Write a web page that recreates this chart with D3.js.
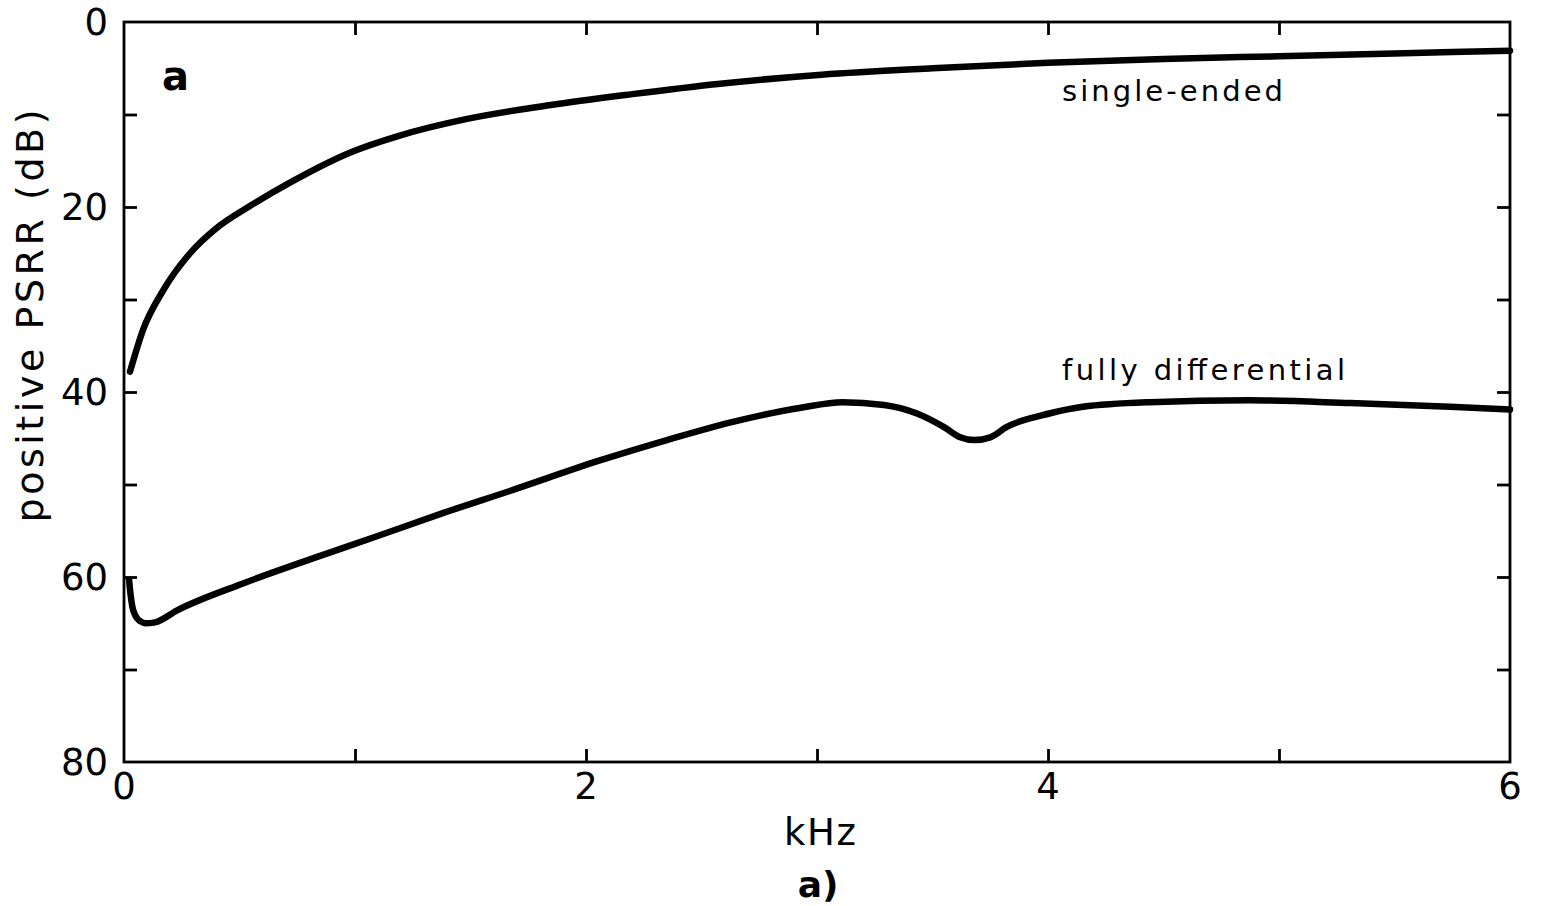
<!DOCTYPE html>
<html>
<head>
<meta charset="utf-8">
<script src="https://cdn.jsdelivr.net/npm/d3@7/dist/d3.min.js"></script>
<style>
  html, body { margin: 0; padding: 0; background: #fff; }
  svg { display: block; }
  text { font-family: "DejaVu Sans", "Liberation Sans", sans-serif; fill: #000; }
</style>
</head>
<body>
<svg id="chart" width="1541" height="906"></svg>
<script>
// Frequency in kHz, positive PSRR in dB (axis runs downward, 0 at top)
const singleEndedKHz = [0.026, 0.082, 0.17, 0.286, 0.40, 0.545, 0.73, 0.98, 1.19, 1.48, 1.84, 2.2, 2.57, 3.02, 3.5, 4.0, 4.5, 5.0, 5.5, 6.0];
const singleEndedDB  = [37.8, 33.3, 29.0, 25.0, 22.3, 19.9, 17.2, 14.1, 12.3, 10.5, 9.0, 7.8, 6.7, 5.7, 5.0, 4.4, 4.0, 3.7, 3.4, 3.1];

const fullyDiffKHz = [0.022, 0.028, 0.036, 0.046, 0.058, 0.072, 0.091, 0.134, 0.23, 0.515, 0.805, 1.095, 1.38, 1.67, 2.06, 2.35, 2.64, 2.93, 3.11, 3.29, 3.43, 3.55, 3.62, 3.68, 3.75, 3.82, 4.01, 4.15, 4.44, 4.87, 5.31, 5.74, 6.0];
const fullyDiffDB  = [60.3, 61.8, 63.2, 64.0, 64.5, 64.8, 65.0, 64.9, 63.6, 60.7, 58.1, 55.6, 53.1, 50.7, 47.4, 45.2, 43.2, 41.7, 41.1, 41.4, 42.3, 43.8, 44.9, 45.2, 44.9, 43.8, 42.3, 41.6, 41.1, 40.9, 41.2, 41.6, 41.9];

const xTickValues = [0, 1, 2, 3, 4, 5, 6];
const xTickLabels = ["0", "", "2", "", "4", "", "6"];
const yTickValues = [0, 10, 20, 30, 40, 50, 60, 70, 80];
const yTickLabels = ["0", "", "20", "", "40", "", "60", "", "80"];

const seriesLabels = ["single-ended", "fully differential"];
const panelTag = "a";
const xTitle = "kHz";
const yTitle = "positive PSRR (dB)";
const caption = "a)";

const svg = d3.select("#chart");
const plotLeft = 124, plotRight = 1510, plotTop = 22, plotBottom = 762;

const x = d3.scaleLinear().domain([0, 6]).range([plotLeft, plotRight]);
const y = d3.scaleLinear().domain([0, 80]).range([plotTop, plotBottom]);

const tickLen = 13;
const axisStroke = 2.8;

// Frame
svg.append("rect")
  .attr("x", plotLeft).attr("y", plotTop)
  .attr("width", plotRight - plotLeft).attr("height", plotBottom - plotTop)
  .attr("fill", "none").attr("stroke", "#000").attr("stroke-width", axisStroke);

// Inward ticks on all four sides
const innerX = xTickValues.filter(v => v > 0 && v < 6);
const innerY = yTickValues.filter(v => v > 0 && v < 80);

const bottomAxis = d3.axisBottom(x).tickValues(innerX).tickSizeInner(-tickLen).tickSizeOuter(0).tickFormat("");
const topAxis = d3.axisTop(x).tickValues(innerX).tickSizeInner(-tickLen).tickSizeOuter(0).tickFormat("");
const leftAxis = d3.axisLeft(y).tickValues(innerY).tickSizeInner(-tickLen).tickSizeOuter(0).tickFormat("");
const rightAxis = d3.axisRight(y).tickValues(innerY).tickSizeInner(-tickLen).tickSizeOuter(0).tickFormat("");

function styleAxis(g) {
  g.select(".domain").remove();
  g.selectAll(".tick line").attr("stroke", "#000").attr("stroke-width", axisStroke);
}
svg.append("g").attr("transform", `translate(0,${plotBottom})`).call(bottomAxis).call(styleAxis);
svg.append("g").attr("transform", `translate(0,${plotTop})`).call(topAxis).call(styleAxis);
svg.append("g").attr("transform", `translate(${plotLeft},0)`).call(leftAxis).call(styleAxis);
svg.append("g").attr("transform", `translate(${plotRight},0)`).call(rightAxis).call(styleAxis);

// Tick labels
svg.append("g").selectAll("text")
  .data(xTickValues.map((v, i) => ({ v, t: xTickLabels[i] })).filter(d => d.t))
  .join("text")
  .attr("x", d => x(d.v))
  .attr("y", 799)
  .attr("text-anchor", "middle")
  .attr("font-size", 37)
  .text(d => d.t);

svg.append("g").selectAll("text")
  .data(yTickValues.map((v, i) => ({ v, t: yTickLabels[i] })).filter(d => d.t))
  .join("text")
  .attr("x", 108)
  .attr("y", d => y(d.v) + 13)
  .attr("text-anchor", "end")
  .attr("font-size", 37)
  .text(d => d.t);

// Curves
const line = d3.line()
  .x(d => x(d[0]))
  .y(d => y(d[1]))
  .curve(d3.curveMonotoneX);

const seData = singleEndedKHz.map((f, i) => [f, singleEndedDB[i]]);
const fdData = fullyDiffKHz.map((f, i) => [f, fullyDiffDB[i]]);

svg.append("path").datum(seData).attr("d", line)
  .attr("fill", "none").attr("stroke", "#000").attr("stroke-width", 6.5)
  .attr("stroke-linecap", "round").attr("stroke-linejoin", "round");
svg.append("path").datum(fdData).attr("d", line)
  .attr("fill", "none").attr("stroke", "#000").attr("stroke-width", 6.5)
  .attr("stroke-linecap", "round").attr("stroke-linejoin", "round");

// Curve labels
svg.append("text").attr("x", 1062).attr("y", 101).attr("font-size", 29)
  .attr("textLength", 221).attr("lengthAdjust", "spacing").text(seriesLabels[0]);
svg.append("text").attr("x", 1062).attr("y", 380).attr("font-size", 29)
  .attr("textLength", 283).attr("lengthAdjust", "spacing").text(seriesLabels[1]);

// Panel tag
svg.append("text").attr("x", 162).attr("y", 90).attr("font-size", 40)
  .attr("font-weight", "bold").text(panelTag);

// Axis titles
svg.append("text").attr("x", 820).attr("y", 845).attr("text-anchor", "middle")
  .attr("font-size", 37).attr("textLength", 72).attr("lengthAdjust", "spacing").text(xTitle);
svg.append("text").attr("x", 818).attr("y", 897).attr("text-anchor", "middle")
  .attr("font-size", 36).attr("font-weight", "bold").text(caption);

svg.append("text")
  .attr("transform", `translate(43,316) rotate(-90)`)
  .attr("text-anchor", "middle")
  .attr("font-size", 38)
  .attr("textLength", 413).attr("lengthAdjust", "spacing")
  .text(yTitle);
</script>
</body>
</html>
